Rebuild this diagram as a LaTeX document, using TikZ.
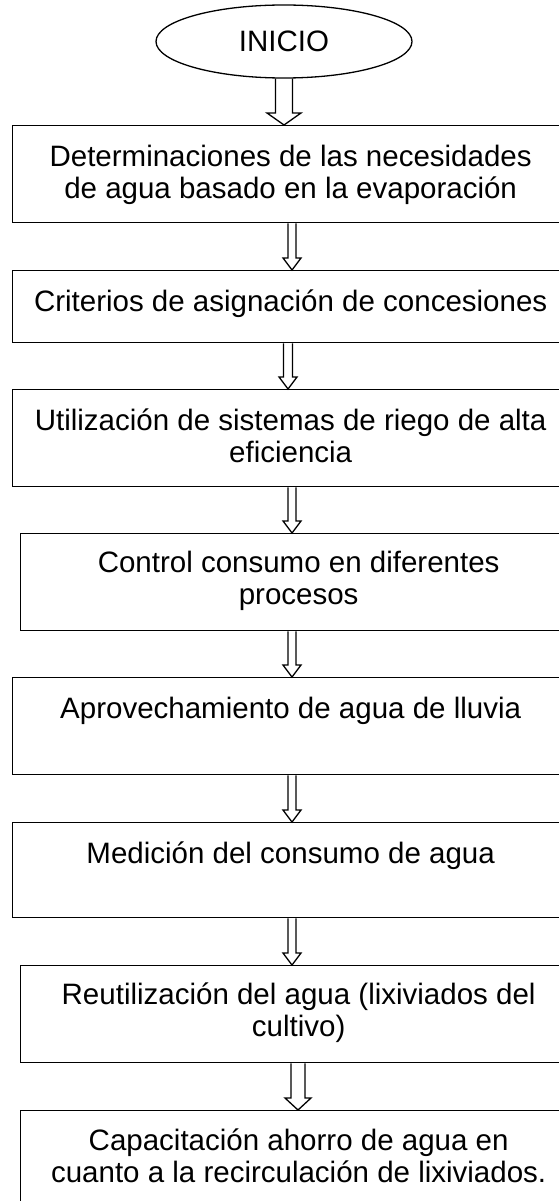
\documentclass[tikz,border=0pt]{standalone}
\usepackage{fontspec}
\setmainfont{Liberation Sans}
\usetikzlibrary{shapes.geometric,positioning,calc}

\tikzset{
  caja/.style={draw, line width=1.3pt, anchor=north west, minimum width=556pt, inner sep=0pt},
  texto/.style={align=center, inner sep=0pt, anchor=north, font=\fontsize{29.5}{32}\selectfont},
  flecha/.style 2 args={line width=1.3pt,
    to path={let \p1=(\tikztostart), \p2=(\tikztotarget) in
      (\x1-#1,\y1) -- (\x1-#1,\y2+12pt) -- (\x1-#2,\y2+12pt) -- (\x1,\y2)
      -- (\x1+#2,\y2+12pt) -- (\x1+#1,\y2+12pt) -- (\x1+#1,\y1)}}
}

\begin{document}
\begin{tikzpicture}[x=1pt, y=-1pt]
	\useasboundingbox (0,0) rectangle (559,1201);

	\node[draw, ellipse, line width=1.3pt, minimum width=256pt, minimum height=73pt,
		inner sep=0pt, font=\fontsize{29.5}{32}\selectfont] (inicio) at (284,41.5) {INICIO};

	% cajas
	\node[caja, minimum height=97pt] (b1) at (12,125) {};
	\node[caja, minimum height=72pt] (b2) at (12,270) {};
	\node[caja, minimum height=97pt] (b3) at (12,389) {};
	\node[caja, minimum height=97pt] (b4) at (20,533) {};
	\node[caja, minimum height=97pt] (b5) at (12,677) {};
	\node[caja, minimum height=95pt] (b6) at (12,822) {};
	\node[caja, minimum height=97pt] (b7) at (20,965) {};
	\node[caja, minimum height=97pt] (b8) at (20,1110) {};

	% textos
	\node[texto, below=20pt of b1.north] (t1) {Determinaciones de las necesidades\\de agua basado en la evaporación};
	\node[texto, below=20pt of b2.north] (t2) {Criterios de asignación de concesiones};
	\node[texto, below=20pt of b3.north] (t3) {Utilización de sistemas de riego de alta\\eficiencia};
	\node[texto, below=18pt of b4.north] (t4) {Control consumo en diferentes\\procesos};
	\node[texto, below=20pt of b5.north] (t5) {Aprovechamiento de agua de lluvia};
	\node[texto, below=20pt of b6.north] (t6) {Medición del consumo de agua};
	\node[texto, below=18pt of b7.north] (t7) {Reutilización del agua (lixiviados del\\cultivo)};
	\node[texto, below=19pt of b8.north] (t8) {Capacitación ahorro de agua en\\cuanto a la recirculación de lixiviados.};

	% flechas
	\draw[flecha={8.5pt}{17pt}] (inicio.south -| 284,0) to (b1.north -| 284,0);
	\draw[flecha={4pt}{9pt}] (b1.south -| 292,0) to (b2.north -| 292,0);
	\draw[flecha={4.5pt}{9pt}] (b2.south -| 288,0) to (b3.north -| 288,0);
	\draw[flecha={4pt}{9pt}] (b3.south -| 292,0) to (b4.north -| 292,0);
	\draw[flecha={4pt}{9pt}] (b4.south -| 292,0) to (b5.north -| 292,0);
	\draw[flecha={4pt}{9pt}] (b5.south -| 292,0) to (b6.north -| 292,0);
	\draw[flecha={4pt}{9pt}] (b6.south -| 292,0) to (b7.north -| 292,0);
	\draw[flecha={7pt}{13pt}] (b7.south -| 298,0) to (b8.north -| 298,0);
\end{tikzpicture}
\end{document}
